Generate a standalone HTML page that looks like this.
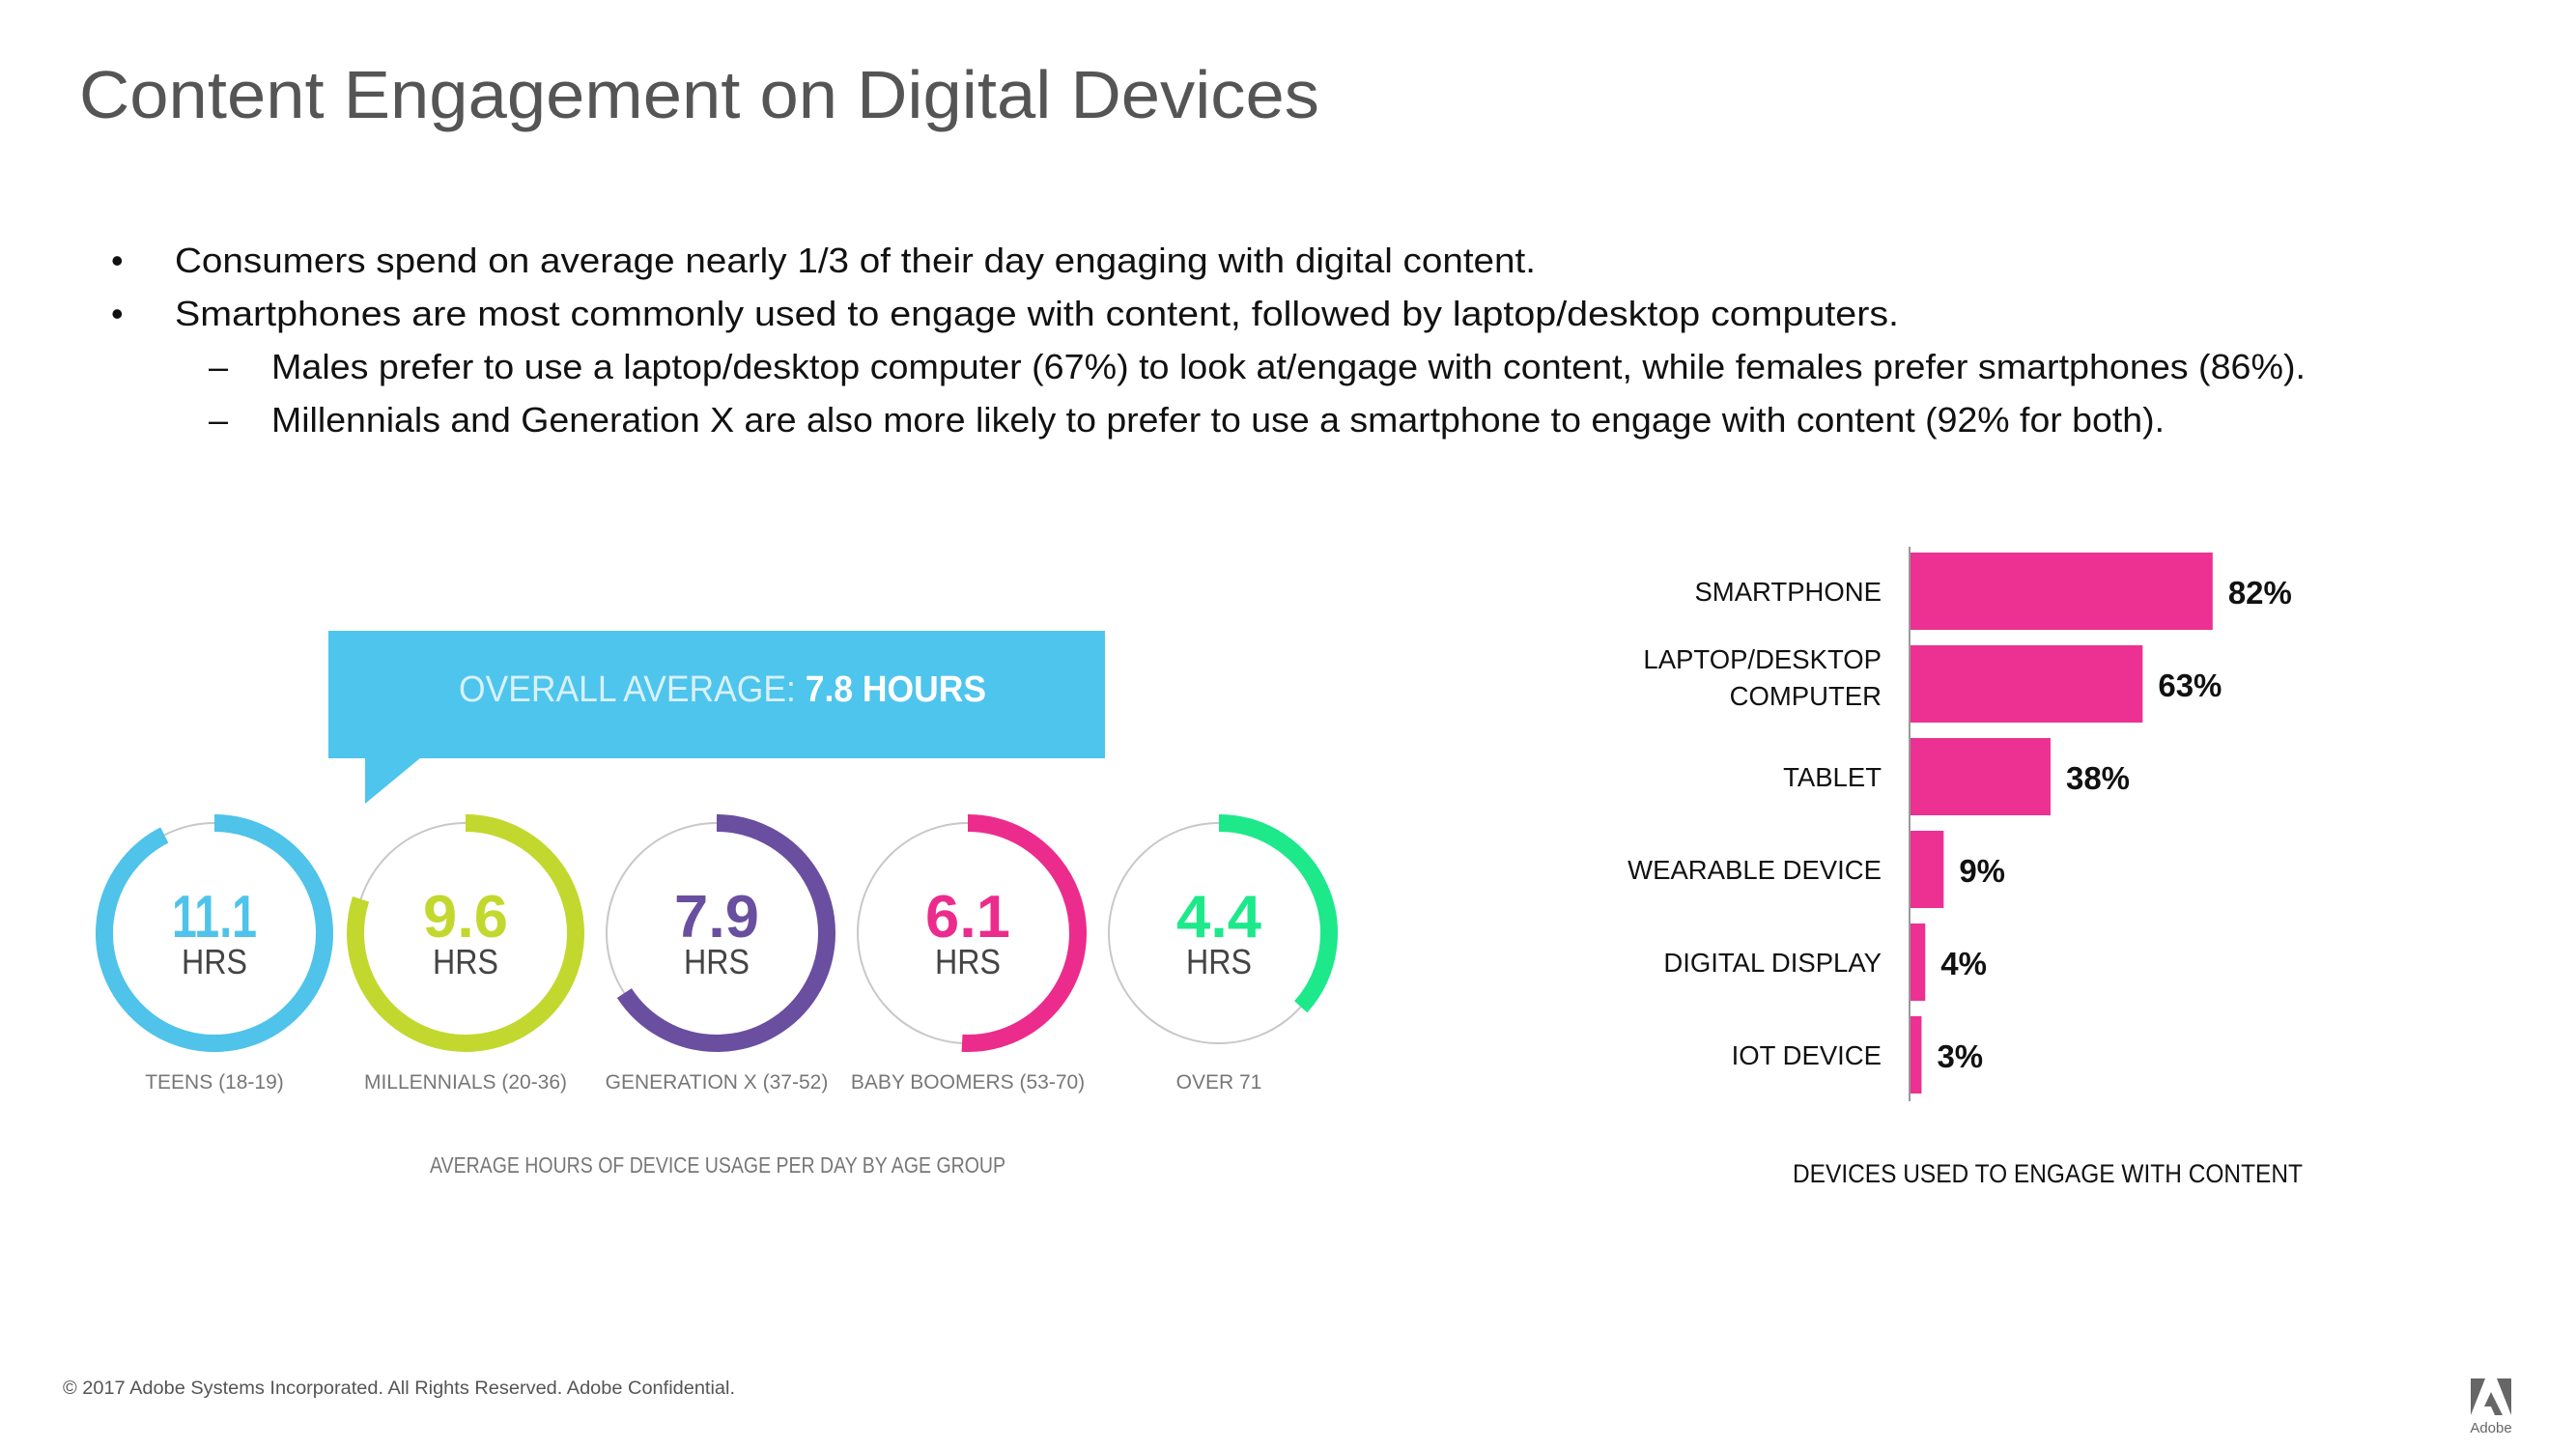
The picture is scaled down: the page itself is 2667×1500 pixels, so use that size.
<!DOCTYPE html>
<html><head><meta charset="utf-8"><style>
html,body{margin:0;padding:0;background:#fff;}
svg{display:block;font-family:"Liberation Sans",sans-serif;}
</style></head><body>
<svg id="root" width="2667" height="1500" viewBox="0 0 2667 1500" xmlns="http://www.w3.org/2000/svg">
<text x="82" y="122" font-size="70" fill="#555" textLength="1284" lengthAdjust="spacingAndGlyphs">Content Engagement on Digital Devices</text>

<g font-size="36" fill="#111">
<text x="115" y="282">•</text>
<text x="181" y="282" textLength="1409" lengthAdjust="spacingAndGlyphs">Consumers spend on average nearly 1/3 of their day engaging with digital content.</text>
<text x="115" y="337">•</text>
<text x="181" y="337" textLength="1785" lengthAdjust="spacingAndGlyphs">Smartphones are most commonly used to engage with content, followed by laptop/desktop computers.</text>
<text x="216" y="392">–</text>
<text x="281" y="392" textLength="2106" lengthAdjust="spacingAndGlyphs">Males prefer to use a laptop/desktop computer (67%) to look at/engage with content, while females prefer smartphones (86%).</text>
<text x="216" y="447">–</text>
<text x="281" y="447" textLength="1960" lengthAdjust="spacingAndGlyphs">Millennials and Generation X are also more likely to prefer to use a smartphone to engage with content (92% for both).</text>
</g>

<g>
<rect x="340" y="653" width="804" height="132" fill="#4ec5ec"/>
<polygon points="378,784 378,832 436,784" fill="#4ec5ec"/>
<text x="475" y="726" font-size="38" fill="#d9f1fb" textLength="546" lengthAdjust="spacingAndGlyphs">OVERALL AVERAGE: <tspan font-weight="bold" fill="#fff">7.8 HOURS</tspan></text>
</g>

<g id="rings"></g>
<text x="743" y="1214" font-size="23" fill="#777" text-anchor="middle" textLength="596" lengthAdjust="spacingAndGlyphs">AVERAGE HOURS OF DEVICE USAGE PER DAY BY AGE GROUP</text>

<g id="bars"></g>
<text x="1856" y="1224" font-size="27" fill="#111" textLength="528" lengthAdjust="spacingAndGlyphs">DEVICES USED TO ENGAGE WITH CONTENT</text>

<text x="65" y="1443" font-size="19" fill="#555" textLength="696" lengthAdjust="spacingAndGlyphs">© 2017 Adobe Systems Incorporated.  All Rights Reserved.  Adobe Confidential.</text>
<g fill="#666">
<polygon points="2558,1427 2573,1427 2558,1465"/>
<polygon points="2585,1427 2600,1427 2600,1465"/>
<polygon points="2579,1441 2591,1465 2583,1465 2579,1456 2572,1456"/>
<text x="2579" y="1483" font-size="15" text-anchor="middle">Adobe</text>
</g>
</svg>
<script>
const ageGroups = ["TEENS (18-19)", "MILLENNIALS (20-36)", "GENERATION X (37-52)", "BABY BOOMERS (53-70)", "OVER 71"];
const ageHours = [11.1, 9.6, 7.9, 6.1, 4.4];
const ageColors = ["#4fc3ea", "#c3d82e", "#6a4fa0", "#ec2c8c", "#1de98b"];
const hoursMax = 12;

const devices = [["SMARTPHONE"], ["LAPTOP/DESKTOP", "COMPUTER"], ["TABLET"], ["WEARABLE DEVICE"], ["DIGITAL DISPLAY"], ["IOT DEVICE"]];
const devicePct = [82, 63, 38, 9, 4, 3];

const NS = "http://www.w3.org/2000/svg";
function mk(tag, attrs, parent) {
  const e = document.createElementNS(NS, tag);
  for (const k in attrs) e.setAttribute(k, attrs[k]);
  parent.appendChild(e);
  return e;
}

// rings
const rings = document.getElementById("rings");
const cx0 = 222, cxStep = 260, cy = 966, r = 114;
function ringX(i) { return cx0 + i * cxStep; }
ageHours.forEach((h, i) => {
  const cx = ringX(i);
  const g = mk("g", {}, rings);
  
  
  const bg = mk("circle", {cx: cx, cy: cy, r: r, fill: "none", stroke: "#c8c8c8", "stroke-width": 2}, g);
  
  
  const frac = Math.min(h / hoursMax, 0.9999);
  const a = frac * 2 * Math.PI;
  const x1 = cx, y1 = cy - r;
  const x2 = cx + r * Math.sin(a), y2 = cy - r * Math.cos(a);
  const arc = mk("path", {d: `M${x1},${y1} A${r},${r} 0 ${frac > 0.5 ? 1 : 0} 1 ${x2},${y2}`, fill: "none", stroke: ageColors[i], "stroke-width": 18}, g);
  
  
  const label = h.toFixed(1);
  const num = mk("text", {x: cx, y: 970, "font-size": 62, "font-weight": "bold", fill: ageColors[i], "text-anchor": "middle", textLength: 88, lengthAdjust: "spacingAndGlyphs"}, g);
  num.textContent = label;
  
  
  const hrs = mk("text", {x: cx, y: 1008, "font-size": 36, fill: "#444", "text-anchor": "middle", textLength: 68, lengthAdjust: "spacingAndGlyphs"}, g);
  hrs.textContent = "HRS";
  
  
  const lab = mk("text", {x: cx, y: 1127, "font-size": 21, fill: "#777", "text-anchor": "middle"}, g);
  lab.textContent = ageGroups[i];
  
  
});

// bars
const bars = document.getElementById("bars");
const x0 = 1977, pxPerPct = 3.815, barTop0 = 572, barStep = 96, barH = 80;
function xScale(v) { return v * pxPerPct; }
function yBand(i) { return barTop0 + i * barStep; }
const axis = mk("line", {x1: x0, y1: 566, x2: x0, y2: 1140, stroke: "#999", "stroke-width": 2}, bars);


devicePct.forEach((v, i) => {
  const y = yBand(i);
  const b = mk("rect", {x: x0 + 1, y: y, width: xScale(v), height: barH, fill: "#ec3193"}, bars);
  
  
  const t = mk("text", {x: x0 + 1 + xScale(v) + 16, y: y + 53, "font-size": 33, "font-weight": "bold", fill: "#111"}, bars);
  t.textContent = v + "%";
  
  
  const lines = devices[i];
  lines.forEach((ln, k) => {
    const ly = lines.length === 1 ? y + 50 : y + 24 + k * 38;
    const l = mk("text", {x: 1948, y: ly, "font-size": 27.5, fill: "#111", "text-anchor": "end"}, bars);
    l.textContent = ln;
    
    
  });
});
</script>
</body></html>
